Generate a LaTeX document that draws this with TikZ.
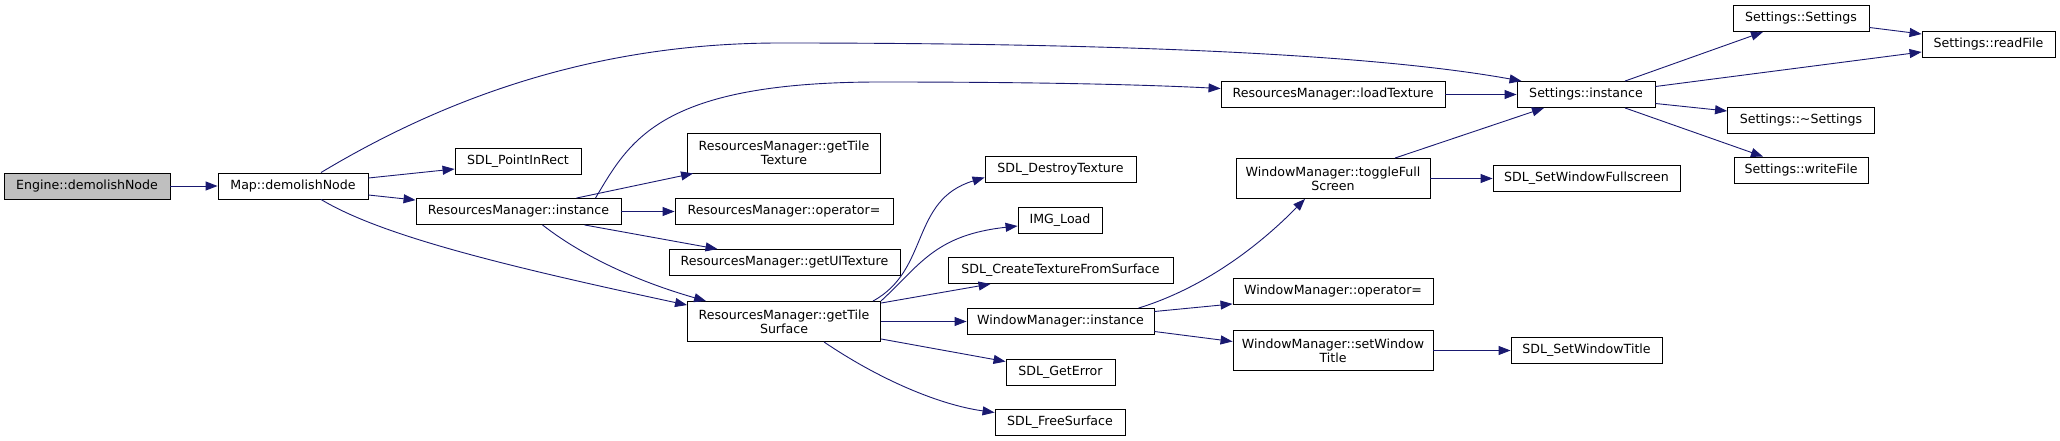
\documentclass[tikz,border=0pt]{standalone}
\usepackage{fontspec}
\setmainfont{DejaVu Sans}
\usepackage{xcolor}
\usepackage{tikz}
\usetikzlibrary{arrows.meta, calc}
\definecolor{callblue}{HTML}{191970}
\definecolor{rootgray}{HTML}{BFBFBF}

\begin{document}
\begin{tikzpicture}[
  x=1pt, y=-1pt,
  box/.style={rectangle, draw=black, line width=0.9pt, align=center, inner sep=0pt, minimum height=26pt, font=\fontsize{12.6}{14}\selectfont},
  tallbox/.style={box, minimum height=40pt},
  call/.style={draw=callblue, line width=0.9pt, -{Triangle[length=12pt, width=9pt]}}
]
\useasboundingbox (0,0) rectangle (2060,441);

% Caller
\node[box, fill=rootgray, minimum width=166pt] (engine) at (87,186) {Engine::demolishNode};
\node[box, minimum width=150pt] (mapdemolish) at (293,186) {Map::demolishNode};

% Map level
\node[box, minimum width=126pt] (pointinrect) at (518,161) {SDL\_PointInRect};
\node[box, minimum width=205pt] (rminstance) at (518.5,211.5) {ResourcesManager::instance};

% ResourcesManager level
\node[tallbox, minimum width=193pt] (gettiletexture) at (784,153) {ResourcesManager::getTile\\Texture};
\node[box, minimum width=218pt] (rmoperator) at (784,211.5) {ResourcesManager::operator=};
\node[box, minimum width=231pt] (getuitexture) at (784.5,262.5) {ResourcesManager::getUITexture};
\node[tallbox, minimum width=193pt] (gettilesurface) at (784,321.5) {ResourcesManager::getTile\\Surface};

% getTileSurface callees
\node[box, minimum width=151pt] (destroytexture) at (1060.5,169.5) {SDL\_DestroyTexture};
\node[box, minimum width=84pt] (imgload) at (1060,220) {IMG\_Load};
\node[box, minimum width=225pt] (createtexture) at (1060.5,270.5) {SDL\_CreateTextureFromSurface};
\node[box, minimum width=187pt] (wminstance) at (1060.5,321.5) {WindowManager::instance};
\node[box, minimum width=109pt] (geterror) at (1060.5,372) {SDL\_GetError};
\node[box, minimum width=130pt] (freesurface) at (1060,422.5) {SDL\_FreeSurface};

% WindowManager level
\node[box, minimum width=224pt] (loadtexture) at (1333,94.5) {ResourcesManager::loadTexture};
\node[tallbox, minimum width=194pt] (togglefull) at (1333,178.5) {WindowManager::toggleFull\\Screen};
\node[box, minimum width=200pt] (wmoperator) at (1333,291.5) {WindowManager::operator=};
\node[tallbox, minimum width=200pt] (setwindow) at (1333,350.5) {WindowManager::setWindow\\Title};

% Settings level
\node[box, minimum width=138pt] (settingsinstance) at (1586,94.5) {Settings::instance};
\node[box, minimum width=187pt] (setfullscreen) at (1586.5,178.5) {SDL\_SetWindowFullscreen};
\node[box, minimum width=151pt] (settitle) at (1586.5,350.5) {SDL\_SetWindowTitle};
\node[box, minimum width=136pt] (settingsctor) at (1801,18.5) {Settings::Settings};
\node[box, minimum width=147pt] (settingsdtor) at (1801,120) {Settings::\textasciitilde Settings};
\node[box, minimum width=134pt] (writefile) at (1801,170) {Settings::writeFile};
\node[box, minimum width=133pt] (readfile) at (1988.5,44) {Settings::readFile};

% Arrows
\draw[call] (engine) -- (mapdemolish);
\draw[call] ($(mapdemolish.north)+(28,0)$) .. controls (450,95) and (600,43) .. (780,43)
  .. controls (1050,43) and (1350,50) .. ($(settingsinstance.north west)+(5,0)$);
\draw[call] ($(mapdemolish.east)+(0,-8)$) -- ($(pointinrect.west)+(0,8)$);
\draw[call] ($(mapdemolish.east)+(0,9)$) -- ($(rminstance.north west)+(0,2)$);
\draw[call] ($(mapdemolish.south)+(28,0)$) .. controls (380,235) and (500,265) .. ($(gettilesurface.north west)+(0,4)$);

\draw[call] ($(rminstance.north)+(77,0)$) .. controls (630,140) and (660,82) .. (880,82)
  .. controls (1050,82) and (1150,85) .. ($(loadtexture.west)+(0,-6)$);
\draw[call] ($(rminstance.north)+(58,0)$) -- ($(gettiletexture.south west)+(6,0)$);
\draw[call] (rminstance) -- (rmoperator);
\draw[call] ($(rminstance.south)+(66,0)$) -- ($(getuitexture.north)+(-67,0)$);
\draw[call] ($(rminstance.south)+(24,0)$) .. controls (590,262) and (650,285) .. ($(gettilesurface.north west)+(19,0)$);

\draw[call] ($(gettilesurface.north east)+(-8,0)$) .. controls (930,270) and (910,200) .. ($(destroytexture.west)+(0,8)$);
\draw[call] (gettilesurface.north east) .. controls (920,265) and (935,235) .. ($(imgload.west)+(0,6)$);
\draw[call] ($(gettilesurface.north east)+(0,2)$) -- ($(createtexture.south west)+(43,0)$);
\draw[call] (gettilesurface) -- (wminstance);
\draw[call] ($(gettilesurface.south east)+(0,-3)$) -- ($(geterror.north west)+(0,3)$);
\draw[call] ($(gettilesurface.south)+(40,0)$) .. controls (880,380) and (940,405) .. ($(freesurface.west)+(0,-10)$);

\draw[call] ($(wminstance.north)+(78,0)$) .. controls (1175,297) and (1235,270) .. ($(togglefull.south)+(-28,0)$);
\draw[call] ($(wminstance.east)+(0,-10)$) -- ($(wmoperator.south west)+(0,-1)$);
\draw[call] ($(wminstance.east)+(0,10)$) -- ($(setwindow.west)+(0,-9)$);
\draw[call] ($(togglefull.north)+(62,0)$) -- ($(settingsinstance.south)+(-42,0)$);
\draw[call] (togglefull) -- (setfullscreen);
\draw[call] (setwindow) -- (settitle);

\draw[call] (loadtexture) -- (settingsinstance);
\draw[call] ($(settingsinstance.north)+(39,0)$) -- ($(settingsctor.south)+(-38,0)$);
\draw[call] ($(settingsinstance.east)+(0,-8)$) -- ($(readfile.west)+(0,8)$);
\draw[call] ($(settingsinstance.east)+(0,9)$) -- ($(settingsdtor.west)+(0,-9)$);
\draw[call] ($(settingsinstance.south)+(39,0)$) -- ($(writefile.north)+(-38,0)$);
\draw[call] ($(settingsctor.east)+(0,9)$) -- ($(readfile.west)+(0,-10)$);

\end{tikzpicture}
\end{document}
